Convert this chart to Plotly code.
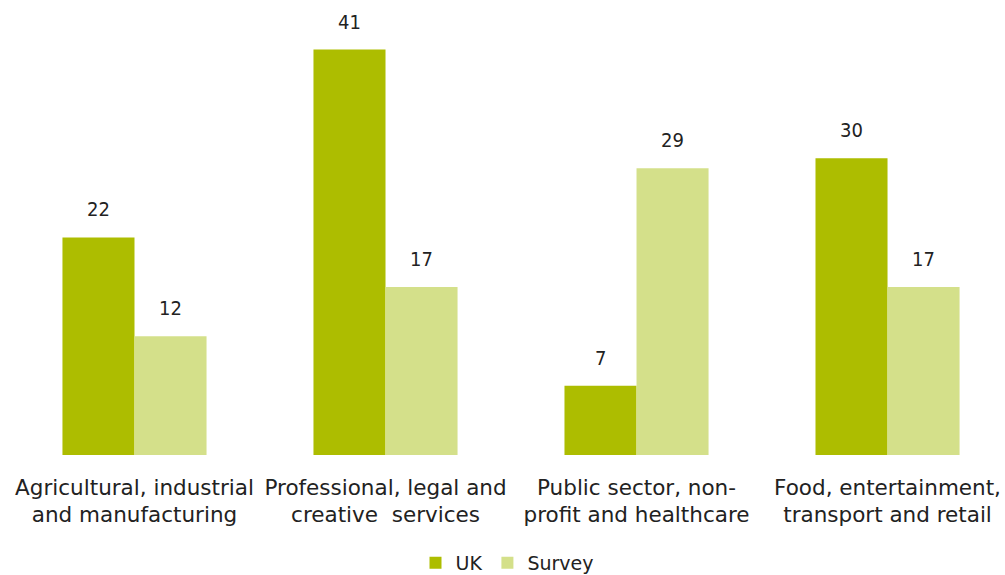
import plotly.graph_objects as go

# Sector shares (%) for the UK and the survey sample
categories = [
    "Agricultural, industrial<br>and manufacturing",
    "Professional, legal and<br>creative  services",
    "Public sector, non-<br>profit and healthcare",
    "Food, entertainment,<br>transport and retail",
]
uk_values = [22, 41, 7, 30]
survey_values = [12, 17, 29, 17]

UK_COLOR = "#ADBD00"
SURVEY_COLOR = "#D4E08A"
TEXT_COLOR = "#222222"
FONT = "DejaVu Sans"
NUM_FONT = "DejaVu Sans Condensed"

fig = go.Figure()
fig.add_trace(go.Bar(
    name="UK", x=categories, y=uk_values, marker_color=UK_COLOR,
    marker_line_width=0,
))
fig.add_trace(go.Bar(
    name="Survey", x=categories, y=survey_values, marker_color=SURVEY_COLOR,
    marker_line_width=0,
))

# value labels above each bar (UK on the left half, Survey on the right half)
for series, shift in ((uk_values, -36), (survey_values, 36)):
    for cat, val in zip(categories, series):
        fig.add_annotation(
            x=cat, y=val, xref="x", yref="y", text=str(val),
            showarrow=False, xshift=shift, yanchor="bottom", yshift=14,
            font=dict(family=NUM_FONT, size=20, color=TEXT_COLOR),
        )

fig.update_layout(
    width=1005, height=575,
    margin=dict(l=9, r=0, t=10, b=120, autoexpand=False),
    barmode="group", bargap=0.426, bargroupgap=0,
    plot_bgcolor="white", paper_bgcolor="white",
    font=dict(family=FONT, size=21, color=TEXT_COLOR),
    showlegend=True,
    legend=dict(
        orientation="h", x=0.5, xanchor="center",
        y=-0.2, yanchor="top",
        font=dict(family=FONT, size=19, color=TEXT_COLOR),
        itemwidth=30, traceorder="normal",
    ),
)
fig.update_xaxes(
    range=[-0.5, 3.468], showgrid=False, showline=False, ticks="",
    ticklabelstandoff=17,
    tickfont=dict(family=FONT, size=21.5, color=TEXT_COLOR),
)
fig.update_yaxes(
    range=[0, 45], visible=False, showgrid=False, zeroline=False,
)

fig.write_html("out.html")
